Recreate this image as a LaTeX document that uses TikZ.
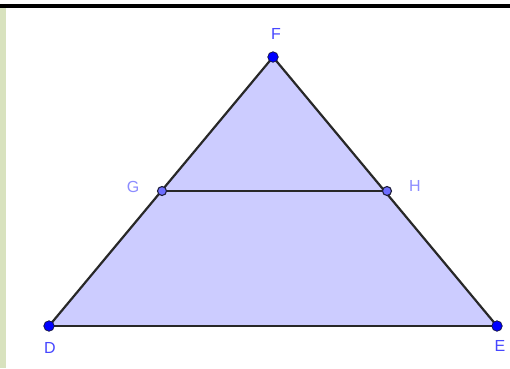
\documentclass[tikz,border=0pt]{standalone}
\usepackage{fontspec}
\setmainfont{Liberation Sans}
\definecolor{edgecol}{RGB}{40,40,40}
\definecolor{bigfill}{RGB}{0,0,255}
\definecolor{bigline}{RGB}{20,20,60}
\definecolor{smallfill}{RGB}{110,110,255}
\definecolor{smallline}{RGB}{30,30,60}
\definecolor{lblcol}{RGB}{70,70,255}
\definecolor{lbllightcol}{RGB}{140,140,255}
\definecolor{stripcol}{RGB}{216,226,190}
\definecolor{trifill}{RGB}{204,204,255}
\begin{document}
\begin{tikzpicture}[x=1pt,y=-1pt,
  edge/.style={draw=edgecol, line width=2.2pt, line cap=round},
  bigpt/.style={circle, fill=bigfill, draw=bigline, line width=0.7pt, minimum size=10.5pt, inner sep=0pt},
  smallpt/.style={circle, fill=smallfill, draw=smallline, line width=1.1pt, minimum size=9pt, inner sep=0pt},
  lbl/.style={font=\fontsize{16}{16}\selectfont, text=lblcol, inner sep=0pt},
  lbllight/.style={font=\fontsize{16}{16}\selectfont, text=lbllightcol, inner sep=0pt}]
\useasboundingbox (0,0) rectangle (510,368);
\fill[white] (0,0) rectangle (510,368);
\fill[black] (0,4) rectangle (510,7.5);
\fill[stripcol] (0,7.5) rectangle (6,368);
\coordinate (d) at (49,326);
\coordinate (e) at (497,326);
\coordinate (f) at (273,57);
\coordinate (g) at (162,191);
\coordinate (h) at (387,191);
\fill[trifill] (d) -- (e) -- (f) -- cycle;
\draw[edge] (d) -- (e);
\draw[edge] (e) -- (f);
\draw[edge] (f) -- (d);
\draw[edge] (g) -- (h);
\node[bigpt] (D) at (d) {};
\node[bigpt] (E) at (e) {};
\node[bigpt] (F) at (f) {};
\node[smallpt] (G) at (g) {};
\node[smallpt] (H) at (h) {};
\node[lbl] (Fl) at (276,34) {F};
\node[lbllight] (Gl) at (133,187) {G};
\node[lbllight] (Hl) at (415,186) {H};
\node[lbl] (Dl) at (50,348) {D};
\node[lbl] (El) at (500,346) {E};
\end{tikzpicture}
\end{document}
